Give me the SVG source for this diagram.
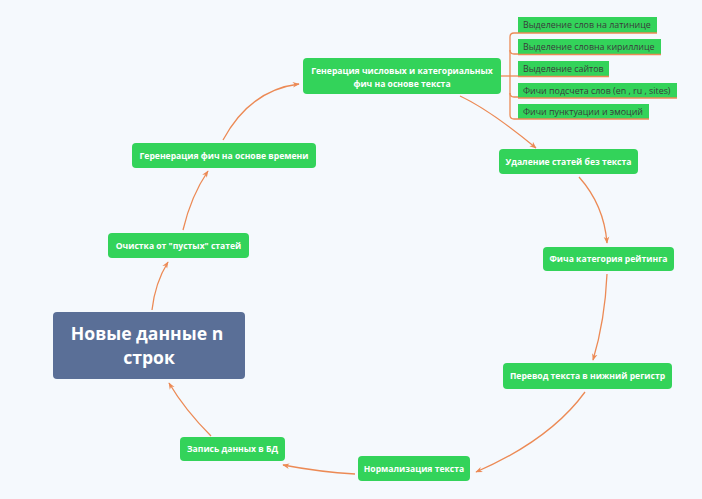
<svg xmlns="http://www.w3.org/2000/svg" width="702" height="499" viewBox="0 0 702 499">
<defs>
<marker id="ah" viewBox="0 0 10 10" refX="9" refY="5" markerWidth="7" markerHeight="7" markerUnits="userSpaceOnUse" orient="auto">
<path d="M0,1 L10,5 L0,9 L3,5 Z" fill="#ec8a55"/>
</marker>
<style>
.n{fill:#33d35a}
.t{font-family:"Open Sans","Liberation Sans",sans-serif;font-size:8.6px;font-weight:bold;fill:#ffffff;text-anchor:middle}
.s{fill:#33d35a}
.st{font-family:"Open Sans","Liberation Sans",sans-serif;font-size:8.9px;fill:#3a3a3a}
.ul{stroke:#ec8a55;stroke-width:1.6}
.c{fill:none;stroke:#ec8a55;stroke-width:1.3}
.big{font-family:"Open Sans","Liberation Sans",sans-serif;font-size:17.6px;font-weight:bold;fill:#ffffff;text-anchor:middle}
</style>
</defs>
<rect width="702" height="499" fill="#f5f9fd"/>
<g id="connectors">
<path class="c" d="M152,310 Q155,283 168,262" marker-end="url(#ah)"/>
<path class="c" d="M183,230 Q191,196 208,171" marker-end="url(#ah)"/>
<path class="c" d="M223,140 Q250,90 299,84" marker-end="url(#ah)"/>
<path class="c" d="M460,96 Q490,110 536,148" marker-end="url(#ah)"/>
<path class="c" d="M579,177 Q604,205 607,243" marker-end="url(#ah)"/>
<path class="c" d="M607,274 Q605,320 593,360" marker-end="url(#ah)"/>
<path class="c" d="M585,392 Q550,440 476,472" marker-end="url(#ah)"/>
<path class="c" d="M355,474 Q320,472 283,465" marker-end="url(#ah)"/>
<path class="c" d="M211,436 Q185,410 169,383" marker-end="url(#ah)"/>
<path class="c" d="M501,76 L518,76"/>
<path class="c" d="M518,33 L514,33 Q510,33 510,37 L510,115 Q510,119 514,119 L518,119"/>
<path class="c" d="M510,50 Q510,54 514,54 L518,54"/>
<path class="c" d="M510,93 Q510,97 514,97 L518,97"/>
</g>
<g id="n0">
<rect x="53" y="312" width="192" height="67" rx="4" fill="#5a6f97"/>
<text class="big" x="147" y="340">Новые данные n</text>
<text class="big" x="149" y="364">строк</text>
</g>
<g id="n1">
<rect class="n" x="108" y="233" width="141" height="25" rx="4"/>
<text class="t" x="178.5" y="248.5">Очистка от "пустых" статей</text>
</g>
<g id="n2">
<rect class="n" x="132" y="143" width="184" height="25" rx="4"/>
<text class="t" x="224" y="158.5">Геренерация фич на основе времени</text>
</g>
<g id="n3">
<rect class="n" x="303" y="58" width="198" height="36" rx="4"/>
<text class="t" x="402" y="74">Генерация числовых и категориальных</text>
<text class="t" x="402" y="87">фич на основе текста</text>
</g>
<g id="n4">
<rect class="n" x="499" y="149" width="139" height="25" rx="4"/>
<text class="t" x="568.5" y="164.5">Удаление статей без текста</text>
</g>
<g id="n5">
<rect class="n" x="543" y="247" width="131" height="24" rx="4"/>
<text class="t" x="608.5" y="262">Фича категория рейтинга</text>
</g>
<g id="n6">
<rect class="n" x="503" y="363" width="169" height="26" rx="4"/>
<text class="t" x="587.5" y="379">Перевод текста в нижний регистр</text>
</g>
<g id="n7">
<rect class="n" x="358" y="456" width="112" height="25" rx="4"/>
<text class="t" x="414" y="471.5">Нормализация текста</text>
</g>
<g id="n8">
<rect class="n" x="180" y="437" width="105" height="24" rx="4"/>
<text class="t" x="232.5" y="452">Запись данных в БД</text>
</g>
<g id="s1">
<rect class="s" x="518" y="17" width="139" height="16"/>
<line class="ul" x1="518" y1="33" x2="657" y2="33"/>
<text class="st" x="523" y="28">Выделение слов на латинице</text>
</g>
<g id="s2">
<rect class="s" x="518" y="39" width="143" height="16"/>
<line class="ul" x1="518" y1="54.5" x2="661" y2="54.5"/>
<text class="st" x="523" y="50">Выделение словна кириллице</text>
</g>
<g id="s3">
<rect class="s" x="518" y="61" width="91" height="16"/>
<line class="ul" x1="518" y1="76.5" x2="609" y2="76.5"/>
<text class="st" x="523" y="72">Выделение сайтов</text>
</g>
<g id="s4">
<rect class="s" x="518" y="83" width="159" height="15"/>
<line class="ul" x1="518" y1="98" x2="677" y2="98"/>
<text class="st" x="523" y="94">Фичи подсчета слов (en , ru , sites)</text>
</g>
<g id="s5">
<rect class="s" x="518" y="104" width="131" height="15"/>
<line class="ul" x1="518" y1="119" x2="649" y2="119"/>
<text class="st" x="523" y="115">Фичи пунктуации и эмоций</text>
</g>
</svg>
